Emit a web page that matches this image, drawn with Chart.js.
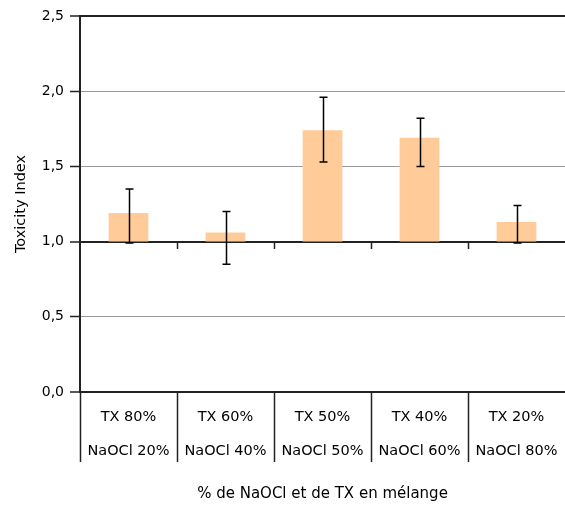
<!DOCTYPE html>
<html>
<head>
<meta charset="utf-8">
<script src="https://cdn.jsdelivr.net/npm/chart.js@4/dist/chart.umd.min.js"></script>
<style>
    html, body { margin: 0; padding: 0; background: #fff; }
    #wrap { width: 565px; height: 510px; }
</style>
</head>
<body>
<div id="wrap"><canvas id="toxicityChart"></canvas></div>
<script>
// Chart data
let txLabels = ['TX 80%', 'TX 60%', 'TX 50%', 'TX 40%', 'TX 20%']
let naoclLabels = ['NaOCl 20%', 'NaOCl 40%', 'NaOCl 50%', 'NaOCl 60%', 'NaOCl 80%']
let toxicity = [1.19, 1.06, 1.74, 1.69, 1.13]
let errorHigh = [1.35, 1.20, 1.96, 1.82, 1.24]
let errorLow = [0.99, 0.85, 1.53, 1.50, 0.99]
let baseline = 1.0

let dark = '#222'
let grey = '#999'
let font = 'DejaVu Sans'

// Error bars drawn on top of the bars
let errorBars = {
    id: 'errorBars',
    afterDatasetsDraw: function(chart) {
        let c = chart.ctx
        let x = chart.scales.x
        let y = chart.scales.y
        c.save()
        c.strokeStyle = '#000'
        c.lineWidth = 1.5
        toxicity.forEach((v, i) => {
            let px = Math.round(x.getPixelForValue(i)) + 0.5
            let top = y.getPixelForValue(errorHigh[i])
            let bottom = y.getPixelForValue(errorLow[i])
            c.beginPath()
            c.moveTo(px, top)
            c.lineTo(px, bottom)
            c.moveTo(px - 4, top)
            c.lineTo(px + 4, top)
            c.moveTo(px - 4, bottom)
            c.lineTo(px + 4, bottom)
            c.stroke()
        })
        c.restore()
    }
}

// Small category ticks under the 1,0 crossing line
let crossTicks = {
    id: 'crossTicks',
    afterDraw: function(chart) {
        let c = chart.ctx
        let x = chart.scales.x
        let y0 = Math.round(chart.scales.y.getPixelForValue(baseline))
        c.save()
        c.strokeStyle = dark
        c.lineWidth = 1.5
        for (let i = 1; i < toxicity.length; i++) {
            let px = Math.round((x.getPixelForValue(i - 1) + x.getPixelForValue(i)) / 2) + 0.5
            c.beginPath()
            c.moveTo(px, y0)
            c.lineTo(px, y0 + 7)
            c.stroke()
        }
        c.restore()
    }
}

let isDarkLine = v => v === 0 || v === baseline || v === 2.5

let chart = new Chart(document.getElementById('toxicityChart'), {
    type: 'bar',
    data: {
        labels: txLabels.map((t, i) => [t, naoclLabels[i]]),
        datasets: [{
            data: toxicity.map(v => [baseline, v]),
            backgroundColor: '#FFCC99',
            borderWidth: 0,
            barPercentage: 0.41,
            categoryPercentage: 1
        }]
    },
    options: {
        responsive: true,
        maintainAspectRatio: false,
        animation: false,
        layout: { padding: { top: 16, right: 0, left: 0, bottom: 0 } },
        plugins: {
            legend: { display: false },
            tooltip: { enabled: false }
        },
        scales: {
            x: {
                offset: true,
                grid: {
                    offset: true,
                    drawOnChartArea: false,
                    tickLength: 70,
                    tickWidth: 1.5,
                    // no separator after the last category
                    tickColor: c => c.tick ? dark : 'transparent'
                },
                border: { display: true, color: dark, width: 2 },
                ticks: {
                    color: '#000',
                    padding: -62,
                    maxRotation: 0,
                    autoSkip: false,
                    font: { family: font, size: 14.5, lineHeight: 2.35 }
                },
                title: {
                    display: true,
                    text: '% de NaOCl et de TX en mélange',
                    color: '#000',
                    font: { family: font, size: 15 },
                    padding: { top: 0, bottom: 7 }
                },
                afterFit: function(scale) { scale.height = 118 }
            },
            y: {
                min: 0,
                max: 2.5,
                grid: {
                    color: c => isDarkLine(c.tick.value) ? dark : grey,
                    lineWidth: c => isDarkLine(c.tick.value) ? 2 : 1,
                    tickLength: 10,
                    tickColor: dark,
                    tickWidth: 1.5
                },
                border: { display: true, color: dark, width: 2 },
                ticks: {
                    stepSize: 0.5,
                    color: '#000',
                    padding: 6,
                    font: { family: font, size: 14 },
                    callback: v => v.toFixed(1).replace('.', ',')
                },
                title: {
                    display: true,
                    text: 'Toxicity Index',
                    color: '#000',
                    font: { family: font, size: 14.5 },
                    padding: { top: 13, bottom: 0 }
                },
                afterFit: function(scale) { scale.width = 80 }
            }
        }
    },
    plugins: [errorBars, crossTicks]
})
</script>
</body>
</html>
